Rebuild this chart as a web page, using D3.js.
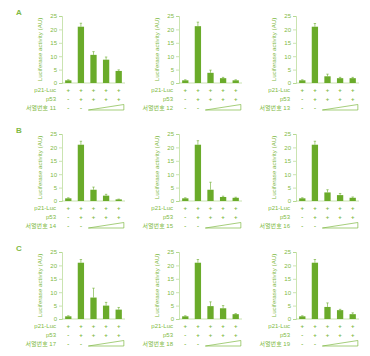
<!DOCTYPE html>
<html><head><meta charset="utf-8">
<script src="https://cdn.jsdelivr.net/npm/d3@7"></script>
<style>
body{margin:0;background:#fff;}
svg text{font-family:"Liberation Sans","Noto Sans CJK KR",sans-serif;}
</style></head>
<body><svg id="c" width="370" height="356"></svg>
<script>
const rowLetters = ["A","B","C"];
const panelLabels = ["서열번호 11","서열번호 12","서열번호 13","서열번호 14","서열번호 15","서열번호 16","서열번호 17","서열번호 18","서열번호 19"];
const means = [
  [1,21,10.5,8.7,4.5],
  [1,21.2,3.8,1.8,1.0],
  [1,21,2.5,1.8,1.8],
  [1,21,4.2,2.0,0.6],
  [1,21,4.2,1.5,1.2],
  [1,21,3.2,2.2,1.2],
  [1,21,8,5,3.5],
  [1,21,4.8,4,1.8],
  [1,21,4.5,3.3,1.8]
];
const errors = [
  [0.2,1.3,1.2,1.0,0.4],
  [0.2,1.5,1.0,0.3,0.2],
  [0.2,1.2,0.8,0.3,0.3],
  [0.2,1.3,1.0,0.5,0.1],
  [0.2,1.5,2.8,0.3,0.2],
  [0.2,1.3,1.0,0.6,0.3],
  [0.2,1.2,3.5,1.2,0.8],
  [0.2,1.2,1.6,1.0,0.2],
  [0.2,1.2,1.5,0.3,0.5]
];
const yTicks = [0,5,10,15,20,25];
const conditionRows = ["p21-Luc","p53"];
const p21Signs = ["+","+","+","+","+"];
const p53Signs = ["-","+","+","+","+"];
const seqSigns = ["-","-"];
const yLabel = "Luciferase activity (AU)";

const barColor = "#6aab2a";
const textColor = "#80b944";
const axisColor = "#a6d27c";
const svg = d3.select("#c");

const axisX = [62,179,296];
const zeroY = [83,201,319];
const plotH = 67, plotW = 63;

for (let r=0;r<3;r++){
  svg.append("text").attr("x",16).attr("y",zeroY[r]-plotH-1)
    .attr("font-size",8).attr("font-weight","bold").attr("fill",textColor).text(rowLetters[r]);
  for (let c=0;c<3;c++){
    const idx = r*3+c;
    const g = svg.append("g").attr("transform",`translate(${axisX[c]},${zeroY[r]-plotH})`);
    const y = d3.scaleLinear().domain([0,25]).range([plotH,0]);
    const x = d3.scaleBand().domain(d3.range(5)).range([0,plotW]).paddingInner(0.5).paddingOuter(0.25);
    const ya = g.append("g").call(d3.axisLeft(y).tickValues(yTicks).tickSize(3).tickPadding(2));
    ya.select(".domain").attr("stroke",axisColor).attr("stroke-width",0.6);
    ya.selectAll(".tick line").attr("stroke",axisColor).attr("stroke-width",0.6);
    ya.selectAll(".tick text").attr("fill",textColor).attr("font-size",6).attr("font-family",null);
    g.append("line").attr("x1",0).attr("x2",plotW).attr("y1",plotH).attr("y2",plotH)
      .attr("stroke",axisColor).attr("stroke-width",0.6);
    g.append("text").attr("transform",`translate(-20,${plotH/2}) rotate(-90)`)
      .attr("text-anchor","middle").attr("font-size",6.2).attr("fill",textColor).text(yLabel);
    g.selectAll("rect.b").data(means[idx]).join("rect").attr("class","b")
      .attr("x",(d,i)=>x(i)).attr("width",x.bandwidth())
      .attr("y",d=>y(d)).attr("height",d=>plotH-y(d)).attr("fill",barColor);
    const eb = g.selectAll("g.e").data(means[idx]).join("g").attr("class","e");
    eb.append("line").attr("x1",(d,i)=>x(i)+x.bandwidth()/2).attr("x2",(d,i)=>x(i)+x.bandwidth()/2)
      .attr("y1",d=>y(d)).attr("y2",(d,i)=>y(d+errors[idx][i])).attr("stroke",barColor).attr("stroke-width",0.6);
    eb.append("line").attr("x1",(d,i)=>x(i)+x.bandwidth()/2-1.2).attr("x2",(d,i)=>x(i)+x.bandwidth()/2+1.2)
      .attr("y1",(d,i)=>y(d+errors[idx][i])).attr("y2",(d,i)=>y(d+errors[idx][i])).attr("stroke",barColor).attr("stroke-width",0.6);
    const rowsY = [plotH+9, plotH+17.5, plotH+26.5];
    const labels = [conditionRows[0], conditionRows[1], panelLabels[idx]];
    labels.forEach((t,k)=>{
      g.append("text").attr("x",-6).attr("y",rowsY[k]).attr("text-anchor","end")
        .attr("font-size",6).attr("fill",textColor).text(t);
    });
    [p21Signs,p53Signs,seqSigns].forEach((arr,k)=>{
      g.selectAll(null).data(arr).join("text")
        .attr("x",(d,i)=>x(i)+x.bandwidth()/2).attr("y",rowsY[k])
        .attr("text-anchor","middle").attr("font-size",6).attr("font-weight","bold")
        .attr("fill",textColor).text(d=>d);
    });
    const wx0 = x(2)-2, wx1 = x(4)+x.bandwidth()+2, wb = rowsY[2]+0.5;
    g.append("path").attr("d",`M${wx0},${wb}L${wx1},${wb-5.5}L${wx1},${wb}Z`)
      .attr("fill","#fff").attr("stroke",textColor).attr("stroke-width",0.7);
  }
}
</script></body></html>
